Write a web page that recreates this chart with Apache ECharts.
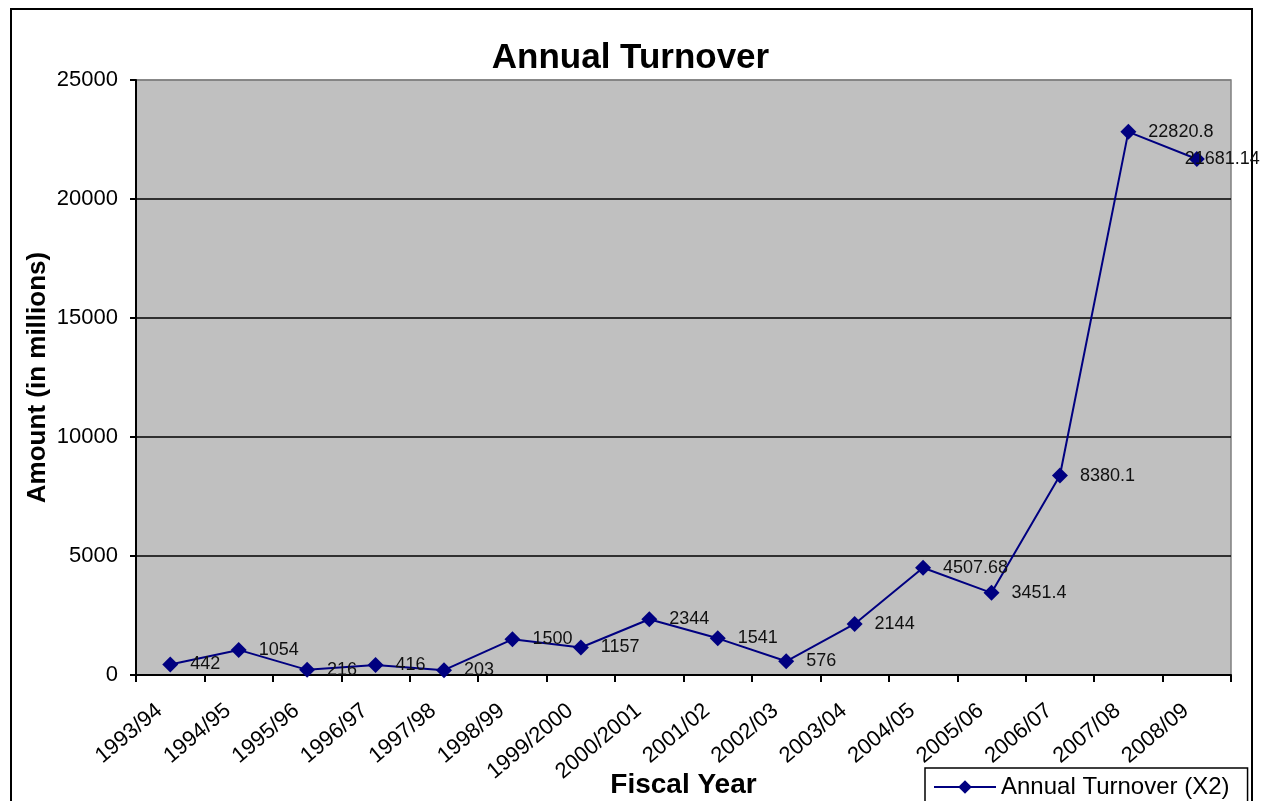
<!DOCTYPE html>
<html>
<head>
<meta charset="utf-8">
<script src="https://cdn.jsdelivr.net/npm/echarts@6/dist/echarts.min.js"></script>
<style>
  html, body { margin: 0; padding: 0; background: #fff; }
  #main { width: 1261px; height: 801px; }
</style>
</head>
<body>
<div id="main"></div>
<script>
let years = ['1993/94', '1994/95', '1995/96', '1996/97', '1997/98', '1998/99', '1999/2000', '2000/2001',
    '2001/02', '2002/03', '2003/04', '2004/05', '2005/06', '2006/07', '2007/08', '2008/09']
let turnover = [442, 1054, 216, 416, 203, 1500, 1157, 2344, 1541, 576, 2144, 4507.68, 3451.4, 8380.1, 22820.8, 21681.14]
let yTicks = [0, 5000, 10000, 15000, 20000, 25000]

let font = 'Liberation Sans, Arial, sans-serif'
let chart = echarts.init(document.getElementById('main'))

// last label sits on top of its point, like the original
let points = turnover.map((v, i) => {
    if (i === turnover.length - 1) {
        return {value: v, label: {offset: [-32, 0]}}
    }
    return v
})

let option = {
    animation: false,
    title: {
        text: 'Annual Turnover',
        left: 'center',
        top: 36,
        textStyle: {fontFamily: font, fontSize: 35, fontWeight: 'bold', color: '#000'}
    },
    graphic: [{
        type: 'rect',
        shape: {x: 11, y: 9, width: 1241, height: 820},
        style: {fill: 'none', stroke: '#000', lineWidth: 2},
        silent: true
    }],
    legend: {
        left: 925,
        top: 768,
        itemWidth: 62,
        itemHeight: 17,
        itemGap: 8,
        padding: [7, 18, 14, 8],
        borderColor: '#000',
        borderWidth: 1.5,
        textStyle: {fontFamily: font, fontSize: 24, color: '#000'},
        data: ['Annual Turnover (X2)']
    },
    grid: {
        left: 136,
        right: 30,
        top: 80,
        bottom: 126,
        outerBoundsMode: 'none',
        containLabel: false,
        show: true,
        backgroundColor: '#C0C0C0',
        borderColor: '#808080',
        borderWidth: 1.5
    },
    xAxis: {
        type: 'category',
        data: years,
        name: 'Fiscal Year',
        nameLocation: 'middle',
        nameGap: 96,
        nameMoveOverlap: false,
        nameTextStyle: {fontFamily: font, fontSize: 28, fontWeight: 'bold', color: '#000'},
        axisLine: {lineStyle: {color: '#000', width: 2}},
        axisTick: {show: true, length: 7, inside: false, alignWithLabel: false, lineStyle: {color: '#000', width: 2}},
        axisLabel: {
            rotate: 40,
            interval: 0,
            margin: 24,
            padding: [0, 14, 0, 0],
            fontFamily: font,
            fontSize: 22,
            color: '#000'
        }
    },
    yAxis: {
        type: 'value',
        min: yTicks[0],
        max: yTicks[yTicks.length - 1],
        interval: 5000,
        name: 'Amount (in millions)',
        nameLocation: 'middle',
        nameGap: 85,
        nameMoveOverlap: false,
        nameTextStyle: {fontFamily: font, fontSize: 26, fontWeight: 'bold', color: '#000'},
        axisLine: {show: true, lineStyle: {color: '#000', width: 2}},
        axisTick: {show: true, length: 6, lineStyle: {color: '#000', width: 2}},
        axisLabel: {
            margin: 18,
            fontFamily: font,
            fontSize: 22,
            color: '#000',
            formatter: v => String(v)
        },
        splitLine: {
            show: true,
            lineStyle: {color: ['#000', '#000', '#000', '#000', '#000', '#808080'], width: 1.5}
        }
    },
    series: [
        {
            name: 'Annual Turnover (X2)',
            type: 'line',
            data: points,
            symbol: 'diamond',
            symbolSize: 16,
            itemStyle: {color: '#000080'},
            lineStyle: {color: '#000080', width: 2},
            label: {
                show: true,
                position: 'right',
                distance: 12,
                fontFamily: font,
                fontSize: 18,
                color: '#111'
            },
            silent: true
        }
    ]
}
chart.setOption(option)
</script>
</body>
</html>
